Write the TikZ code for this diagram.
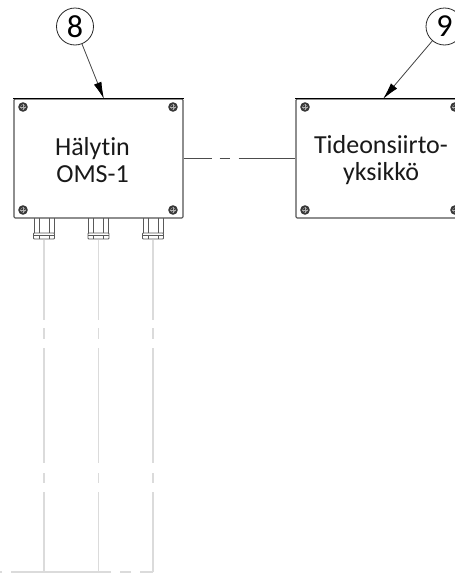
\documentclass[tikz,border=0pt]{standalone}
\usepackage{fontspec}
\setmainfont[Ligatures=NoCommon]{Carlito}
\usetikzlibrary{arrows.meta}
\definecolor{wire}{gray}{0.86}
\tikzset{
  x=1pt,y=-1pt,
  enclosure/.style={draw=black!68,line width=1.1pt,rounded corners=1.2pt,minimum width=169pt,minimum height=119pt,inner sep=0pt,anchor=center},
  topedge/.style={draw=black,line width=0.9pt},
  balloon/.style={circle,draw=black!85,line width=0.8pt,minimum size=37pt,inner sep=0pt,font=\fontsize{32}{32}\selectfont},
  label/.style={align=center,font=\fontsize{26}{26.5}\selectfont,text=black!90,inner sep=0pt},
  leader/.style={draw=black!75,line width=0.8pt,-{Latex[length=17pt,width=8pt,black]}},
  link/.style={draw=black!70,line width=0.8pt,dash pattern=on 28pt off 8pt on 10pt off 9pt on 70pt},
  wireline/.style={draw=wire,line width=1.3pt},
  glandline/.style={draw=black!65,line width=0.8pt},
  screwhead/.pic={
    \fill[black!78] (0,0) circle[radius=4.8pt];
    \draw[white!70!black,line width=0.5pt] (-3,0) -- (3,0) (0,-3) -- (0,3);
    \draw[white!65!black,line width=0.35pt] (0,0) circle[radius=2.4pt];
  },
  gland/.pic={
    \draw[glandline] (-10,0) -- (-10,15) (-5,0) -- (-5,15) (5,0) -- (5,15) (10,0) -- (10,15);
    \draw[glandline,rounded corners=0.8pt] (-10.5,15) rectangle (10.5,21);
    \draw[glandline] (-10.5,17) -- (10.5,17);
    \draw[glandline] (-5,17) -- (-5,21) (5,17) -- (5,21);
  },
}
\begin{document}
\begin{tikzpicture}
\useasboundingbox (0,0) rectangle (455,573);
\clip (0,0) rectangle (455,573);
% wires
\coordinate (g1) at (44,240);
\coordinate (g2) at (98.5,240);
\coordinate (g3) at (153,240);
\coordinate (e1) at (44,572);
\coordinate (e2) at (98.5,572);
\coordinate (e3) at (153,572);
\coordinate (e0) at (0,572);
\foreach \n in {1,2,3}
  \draw[wireline,dash pattern=on 80pt off 8pt on 11pt off 9pt on 115pt off 10pt on 10pt off 9pt on 90pt] (g\n) -- (e\n);
\draw[wireline,dash pattern=on 13pt off 9pt on 11pt off 9pt on 100pt off 9pt on 10pt] (e3) -- (e0);
% enclosures
\node[enclosure] (b8) at (98.5,158.5) {};
\node[enclosure] (b9) at (380.5,158.5) {};
\draw[topedge] (b8.north west) -- (b8.north east);
\draw[topedge] (b9.north west) -- (b9.north east);
\node[label] (t8) at (92.5,160) {Hälytin\\OMS-1};
\node[label] (t9) at (381,160) {Tideonsiirto-\\yksikkö};
\foreach \x/\y in {23/107,173/107,23/210,173/210,305/107,455/107,305/210,455/210}
  \pic at (\x,\y) {screwhead};
\foreach \x in {44,98.5,153}
  \pic at (\x,218) {gland};
% link
\draw[link] (b8.east) -- (b9.west);
% balloons
\node[balloon] (c8) at (75,26.5) {8};
\node[balloon] (c9) at (444.5,26.5) {9};
\coordinate (a8) at (104,99);
\coordinate (a9) at (383,99);
\draw[leader] (c8) -- (a8);
\draw[leader] (c9) -- (a9);
\end{tikzpicture}
\end{document}
